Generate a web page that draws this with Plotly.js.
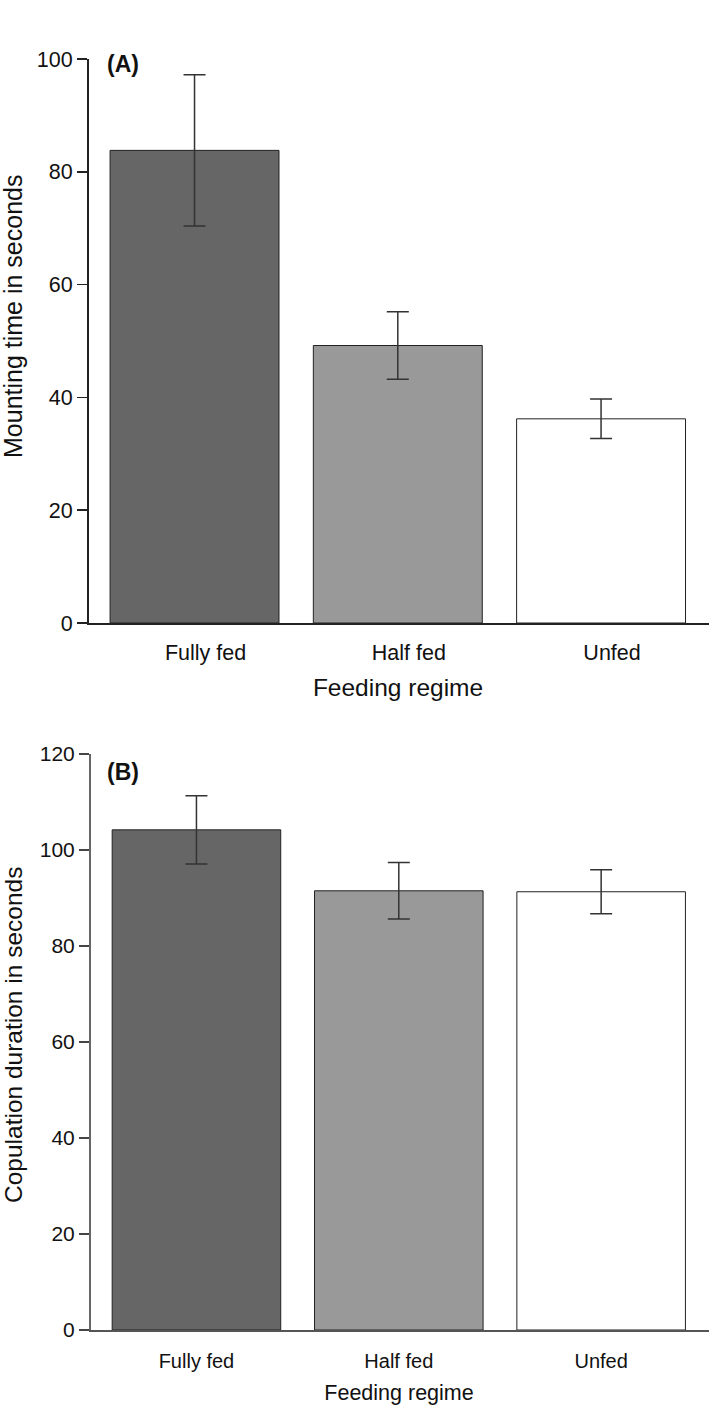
<!DOCTYPE html>
<html>
<head>
<meta charset="utf-8">
<script src="https://cdn.plot.ly/plotly-3.0.1.min.js"></script>
<style>html,body{margin:0;padding:0;background:#fff;}#chart{width:709px;height:1408px;}</style>
</head>
<body>
<div id="chart"></div>
<script>
// Categories
const categories = ["Fully fed", "Half fed", "Unfed"];
// Panel A: mounting time (s)
const mountingMean = [83.8, 49.2, 36.2];
const mountingErr = [13.4, 6.0, 3.5];
// Panel B: copulation duration (s)
const copulationMean = [104.2, 91.5, 91.3];
const copulationErr = [7.1, 5.9, 4.6];
// Tick values
const yTicksA = [0, 20, 40, 60, 80, 100];
const yTicksB = [0, 20, 40, 60, 80, 100, 120];
const barColors = ["#666666", "#999999", "#ffffff"];

const FONT = "Liberation Sans, Arial, Helvetica, sans-serif";
const H = 1408, W = 709;

const traceA = {
  type: "bar", x: categories, y: mountingMean, xaxis: "x", yaxis: "y",
  width: 0.831,
  marker: {color: barColors, line: {color: "#222222", width: 1}},
  error_y: {type: "data", array: mountingErr, visible: true, color: "#333333", thickness: 1.5, width: 11},
  hoverinfo: "x+y", showlegend: false
};
const traceB = {
  type: "bar", x: categories, y: copulationMean, xaxis: "x2", yaxis: "y2",
  width: 0.833,
  marker: {color: barColors, line: {color: "#222222", width: 1}},
  error_y: {type: "data", array: copulationErr, visible: true, color: "#333333", thickness: 1.5, width: 11},
  hoverinfo: "x+y", showlegend: false
};

const yA0 = 623, yA1 = 59, yB0 = 1330, yB1 = 754;

const layout = {
  width: W, height: H,
  margin: {l: 0, r: 0, t: 0, b: 0},
  paper_bgcolor: "#ffffff", plot_bgcolor: "#ffffff",
  font: {family: FONT, color: "#111111"},
  bargap: 0,
  xaxis: {
    domain: [87 / W, 1], range: [-0.529, 2.531], anchor: "y",
    showline: true, linecolor: "#222222", linewidth: 1.5,
    ticks: "", showgrid: false, zeroline: false,
    tickfont: {size: 21.5, family: FONT, color: "#111111"},
    ticklabelstandoff: 10, ticklabelshift: 11,
    title: {text: "Feeding regime", font: {size: 24.5, family: FONT, color: "#111111"}, standoff: 14}
  },
  yaxis: {
    domain: [(H - yA0) / H, (H - yA1) / H], range: [0, 100], anchor: "free", position: 87 / W,
    showline: true, linecolor: "#222222", linewidth: 1.5,
    ticks: "outside", ticklen: 10, tickwidth: 1.5, tickcolor: "#222222",
    tickvals: yTicksA, ticktext: yTicksA.map(String),
    tickfont: {size: 21.5, family: FONT, color: "#111111"},
    showgrid: false, zeroline: false
  },
  xaxis2: {
    domain: [89 / W, 1], range: [-0.531, 2.533], anchor: "y2",
    showline: true, linecolor: "#555555", linewidth: 1.5,
    ticks: "", showgrid: false, zeroline: false,
    tickfont: {size: 20, family: FONT, color: "#111111"},
    ticklabelstandoff: 12,
    title: {text: "Feeding regime", font: {size: 21.5, family: FONT, color: "#111111"}, standoff: 14}
  },
  yaxis2: {
    domain: [(H - yB0) / H, (H - yB1) / H], range: [0, 120], anchor: "free", position: 89 / W,
    showline: true, linecolor: "#666666", linewidth: 1.5,
    ticks: "outside", ticklen: 10, tickwidth: 1.5, tickcolor: "#444444",
    tickvals: yTicksB, ticktext: yTicksB.map(String),
    tickfont: {size: 21, family: FONT, color: "#111111"},
    showgrid: false, zeroline: false
  },
  annotations: [
    {text: "<b>(A)</b>", xref: "paper", yref: "paper", x: 105 / W, y: (H - 64) / H,
     xanchor: "left", yanchor: "middle", showarrow: false, font: {size: 23, family: FONT, color: "#111111"}},
    {text: "<b>(B)</b>", xref: "paper", yref: "paper", x: 105 / W, y: (H - 772) / H,
     xanchor: "left", yanchor: "middle", showarrow: false, font: {size: 23, family: FONT, color: "#111111"}},
    {text: "Mounting time in seconds", xref: "paper", yref: "paper", x: 13 / W, y: (H - 317) / H,
     xanchor: "center", yanchor: "middle", textangle: -90, showarrow: false,
     font: {size: 25, family: FONT, color: "#111111"}},
    {text: "Copulation duration in seconds", xref: "paper", yref: "paper", x: 13 / W, y: (H - 1035) / H,
     xanchor: "center", yanchor: "middle", textangle: -90, showarrow: false,
     font: {size: 24.5, family: FONT, color: "#111111"}}
  ]
};

Plotly.newPlot("chart", [traceA, traceB], layout, {displayModeBar: false, staticPlot: true});
</script>
</body>
</html>
